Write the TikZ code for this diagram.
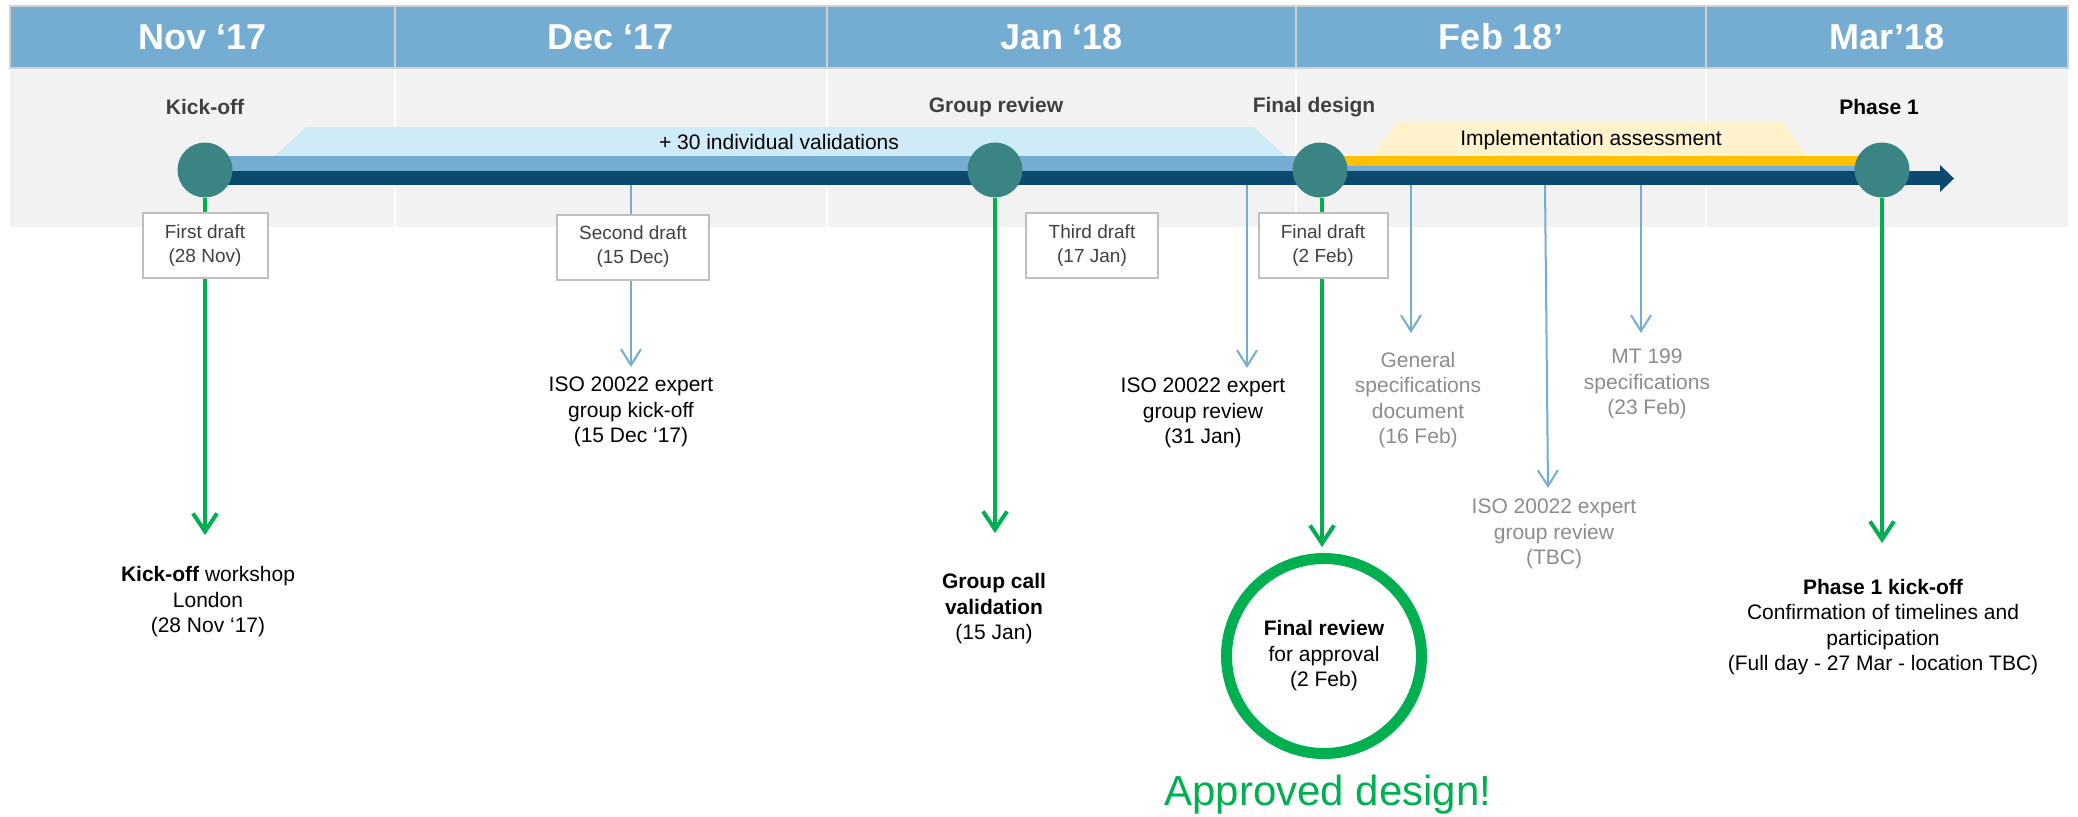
\documentclass[tikz,border=0pt]{standalone}
\usepackage{fontspec}
\setmainfont{Liberation Sans}
\usetikzlibrary{arrows.meta}

\definecolor{hdrblue}{RGB}{117,172,210}
\definecolor{hdrline}{RGB}{208,208,208}
\definecolor{bandgray}{RGB}{242,242,242}
\definecolor{navy}{RGB}{11,74,110}
\definecolor{teal}{RGB}{58,133,132}
\definecolor{okgreen}{RGB}{0,176,80}
\definecolor{valblue}{RGB}{208,235,248}
\definecolor{impyellow}{RGB}{255,242,204}
\definecolor{baryellow}{RGB}{255,192,0}
\definecolor{boxgray}{RGB}{191,191,191}
\definecolor{darktext}{RGB}{64,64,64}
\definecolor{softtext}{RGB}{140,140,140}

\tikzset{
  month/.style={text=white, font=\fontsize{18}{20}\selectfont\bfseries},
  milestone/.style={circle, fill=teal, inner sep=0pt, minimum size=27.5pt},
  mslabel/.style={text=darktext, font=\fontsize{10.5}{12.75}\selectfont\bfseries},
  draftbox/.style={draw=boxgray, line width=1pt, fill=white, align=center,
    text=darktext, font=\fontsize{9.5}{12}\selectfont, minimum height=32.5pt, inner sep=2pt},
  note/.style={align=center, font=\fontsize{10.5}{12.75}\selectfont},
  greenarrow/.style={draw=okgreen, line width=2pt, -{Straight Barb[length=9pt,width=12pt]}},
  bluearrow/.style={draw=hdrblue, line width=1pt, -{Straight Barb[length=8pt,width=10pt]}},
}

\begin{document}
\begin{tikzpicture}[x=0.5pt,y=-0.5pt]
\useasboundingbox (0,0) rectangle (2078,816);
\fill[white] (0,0) rectangle (2078,816);

% grey band behind the timeline, split by month
\fill[bandgray] (10,68) rectangle (2068,227);
\foreach \sx in {395,827,1296,1706}
  \draw[white, line width=1.2pt] (\sx,68) -- (\sx,227);

% month header
\foreach \ax/\bx in {10/395,395/827,827/1296,1296/1706,1706/2068}
  \filldraw[fill=hdrblue, draw=hdrline, line width=1.2pt] (\ax,6) rectangle (\bx,68);
\node[month] (nov) at (203,37) {Nov ‘17};
\node[month] (dec) at (611,37) {Dec ‘17};
\node[month] (jan) at (1062,37) {Jan ‘18};
\node[month] (feb) at (1501,37) {Feb 18’};
\node[month] (mar) at (1887,37) {Mar’18};

% phase bands above the bar
\fill[valblue] (275,156) -- (306,127) -- (1254,127) -- (1285,156) -- cycle;
\node[note] (valid) at (779,142) {+ 30 individual validations};
\fill[impyellow] (1372,156) -- (1397,122) -- (1783,122) -- (1807,156) -- cycle;
\node[note] (impl) at (1591,140) {Implementation assessment};

% timeline bar
\fill[hdrblue] (205,156) rectangle (1882,172);
\fill[baryellow] (1320,156) rectangle (1882,166);
\fill[navy] (205,171) rectangle (1940,185);
\fill[navy] (1940,165) -- (1954,178.5) -- (1940,192) -- cycle;

% milestone labels
\node[mslabel] (kickL) at (205,107) {Kick-off};
\node[mslabel] (grpL) at (996,107) {Group review};
\node[mslabel] (finL) at (1314,107) {Final design};
\node[mslabel, text=black] (ph1L) at (1879,107) {Phase 1};

% milestones
\node[milestone] (kick) at (205,170) {};
\node[milestone] (grp) at (995,170) {};
\node[milestone] (fin) at (1320,170) {};
\node[milestone] (ph1) at (1882,170) {};

% ends of the connectors
\coordinate (kickEnd) at (205,535);
\coordinate (grpEnd) at (995,533);
\coordinate (finEnd) at (1322,547);
\coordinate (ph1End) at (1882,543);
\coordinate (s1) at (631,185);   \coordinate (s1End) at (631,367);
\coordinate (s2) at (1247,185);  \coordinate (s2End) at (1247,368);
\coordinate (s3) at (1411,185);  \coordinate (s3End) at (1411,333);
\coordinate (s4) at (1545,185);  \coordinate (s4End) at (1548,488);
\coordinate (s5) at (1641,185);  \coordinate (s5End) at (1641,333);

% green milestone arrows
\draw[greenarrow] (kick) -- (kickEnd);
\draw[greenarrow] (grp) -- (grpEnd);
\draw[greenarrow] (fin.south -| finEnd) -- (finEnd);
\draw[greenarrow] (ph1) -- (ph1End);

% thin blue arrows from the bar
\draw[bluearrow] (s1) -- (s1End);
\draw[bluearrow] (s2) -- (s2End);
\draw[bluearrow] (s3) -- (s3End);
\draw[bluearrow] (s4) -- (s4End);
\draw[bluearrow] (s5) -- (s5End);

% draft boxes
\node[draftbox, minimum width=62.5pt] (d1) at (205,245.5) {First draft\\(28 Nov)};
\node[draftbox, minimum width=76pt] (d2) at (633,247) {Second draft\\(15 Dec)};
\node[draftbox, minimum width=66pt] (d3) at (1092,245.5) {Third draft\\(17 Jan)};
\node[draftbox, minimum width=64.5pt] (d4) at (1323,245.5) {Final draft\\(2 Feb)};

% event descriptions
\node[note] (kickT) at (208,602) {\textbf{Kick-off} workshop\\London\\(28 Nov ‘17)};
\node[note] (isoA) at (631,412) {ISO 20022 expert\\group kick-off\\(15 Dec ‘17)};
\node[note] (grpT) at (994,609) {\textbf{Group call}\\\textbf{validation}\\(15 Jan)};
\node[note] (isoB) at (1203,413) {ISO 20022 expert\\group review\\(31 Jan)};
\node[note, text=softtext] (gen) at (1418,400) {General\\specifications\\document\\(16 Feb)};
\node[note, text=softtext] (isoC) at (1554,534) {ISO 20022 expert\\group review\\(TBC)};
\node[note, text=softtext] (mt) at (1647,384) {MT 199\\specifications\\(23 Feb)};
\node[note] (ph1T) at (1883,627) {\textbf{Phase 1 kick-off}\\Confirmation of timelines and\\participation\\(Full day - 27 Mar - location TBC)};

% final review ring
\node[note, circle, draw=okgreen, line width=5.5pt, minimum size=97.5pt, inner sep=0pt]
  (ring) at (1324,656) {\textbf{Final review}\\for approval\\(2 Feb)};
\node[text=okgreen, font=\fontsize{21}{25}\selectfont] (appr) at (1328,795) {Approved design!};
\end{tikzpicture}
\end{document}
